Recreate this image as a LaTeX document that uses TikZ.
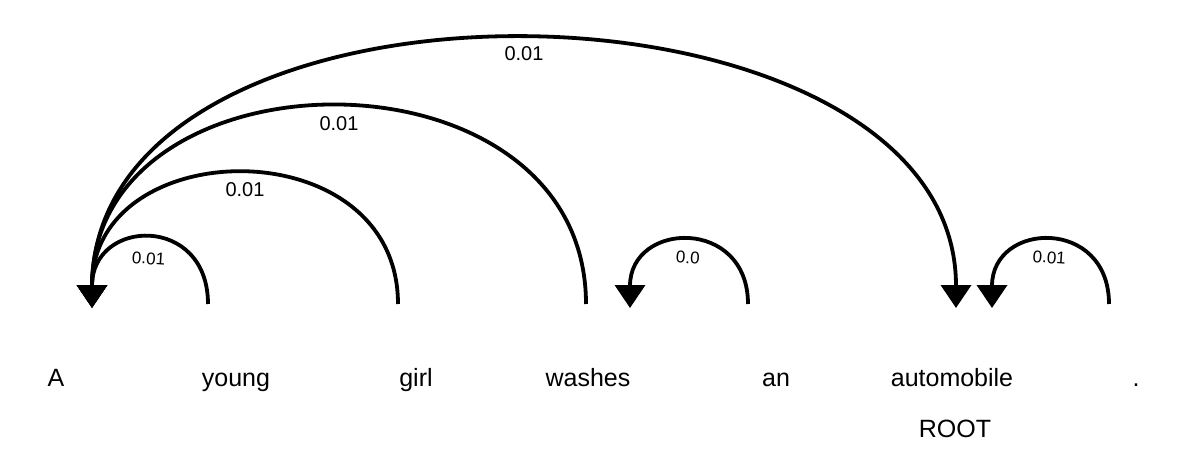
\documentclass[tikz,border=0pt]{standalone}
\usepackage{fontspec}
\setmainfont{Liberation Sans}
\usetikzlibrary{arrows, arrows.meta}
\usetikzlibrary{calc}

\tikzset{
  word/.style={anchor=base, inner sep=0pt, font=\fontsize{25}{30}\selectfont},
  arc/.style={line width=3.8pt, -{Triangle[width=30pt, length=23pt]}},
  lbl/.style={inner sep=2pt, font=\fontsize{20}{24}\selectfont},
  lblsmall/.style={inner sep=2pt, rotate=-4, font=\fontsize{17}{20}\selectfont}
}

\begin{document}
\begin{tikzpicture}[x=1pt, y=-1pt]
      \useasboundingbox (0,0) rectangle (1180,470);

      \node[word] (1) at (56,386) {A};
      \node[word] (2) at (236,386) {young};
      \node[word] (3) at (416,386) {girl};
      \node[word] (4) at (588,386) {washes};
      \node[word] (5) at (776,386) {an};
      \node[word] (6) at (952,386) {automobile};
      \node[word] (7) at (1136,386) {.};
      \node[word] (root) at (955,437) {ROOT};

      \coordinate (1in) at (92,308);
      \coordinate (1out) at (92,288);
      \coordinate (2out) at (208,304);
      \coordinate (3out) at (398,304);
      \coordinate (4out) at (586,304);
      \coordinate (4in) at (630,308);
      \coordinate (5out) at (748,304);
      \coordinate (6in) at (956,308);
      \coordinate (6in2) at (992,308);
      \coordinate (7out) at (1109,304);

      \draw[arc] (2out) .. controls +(0,-90) and +(0,-90) .. node[lblsmall, pos=0.5, below=10pt] (l2) {0.01} (1in);
      \draw[arc] (3out) .. controls +(0,-176) and +(0,-176) .. node[lbl, pos=0.5, below=5pt] (l3) {0.01} (1in);
      \draw[arc] (4out) .. controls +(0,-265) and +(0,-265) .. node[lbl, pos=0.5, below=5pt] (l4) {0.01} (1in);
      \draw[arc] (1out) .. controls +(0,-343) and +(0,-348) .. node[lbl, pos=0.5, below=4pt] (l6) {0.01} (6in);
      \draw[arc] (5out) .. controls +(0,-87) and +(0,-87) .. node[lblsmall, pos=0.5, below=7pt] (l5) {0.0} (4in);
      \draw[arc] (7out) .. controls +(0,-87) and +(0,-87) .. node[lblsmall, pos=0.5, below=7pt] (l7) {0.01} (6in2);
    \end{tikzpicture}
\end{document}
